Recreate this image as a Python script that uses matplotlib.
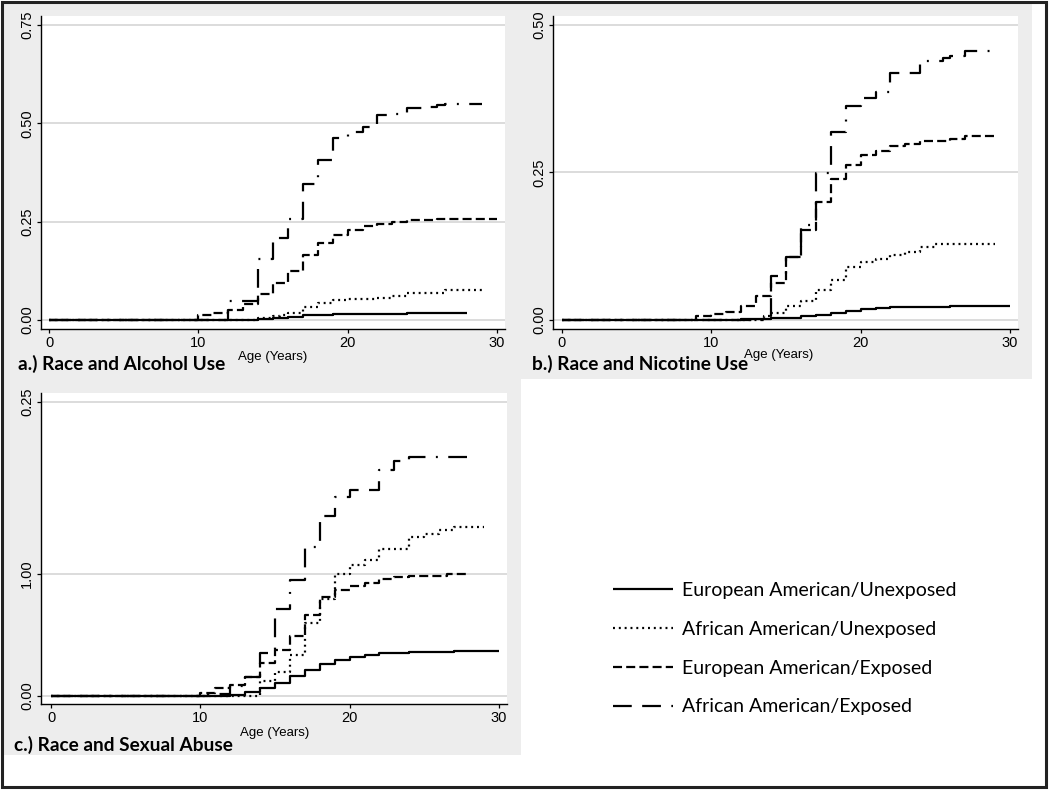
import matplotlib
matplotlib.use("Agg")
import matplotlib.pyplot as plt
from matplotlib.patches import Rectangle

W, H = 1050, 792

# series labels (legend order)
series_names = ["European American/Unexposed", "African American/Unexposed",
                "European American/Exposed", "African American/Exposed"]

# a.) Race and Alcohol Use  (age, cumulative incidence)
alc_ea_unexp_age = [0, 14, 15, 16, 17, 19, 21, 24, 28]
alc_ea_unexp_val = [0, 0.003, 0.005, 0.008, 0.012, 0.014, 0.016, 0.018, 0.018]
alc_aa_unexp_age = [0, 14, 15, 15.5, 16, 17, 18, 19, 20, 22, 23, 24, 26.5, 29]
alc_aa_unexp_val = [0, 0.004, 0.010, 0.013, 0.019, 0.032, 0.042, 0.051, 0.053, 0.057, 0.061, 0.068, 0.076, 0.076]
alc_ea_exp_age = [0, 10, 11, 12, 13, 14, 15, 16, 17, 18, 19, 20, 21, 22, 23, 24, 26, 30]
alc_ea_exp_val = [0, 0.013, 0.017, 0.025, 0.040, 0.066, 0.093, 0.125, 0.164, 0.195, 0.216, 0.230,
                  0.239, 0.244, 0.250, 0.254, 0.258, 0.258]
alc_aa_exp_age = [0, 12, 14, 15, 16, 17, 18, 19, 20, 21, 22, 23, 24, 25, 26, 26.5, 29]
alc_aa_exp_val = [0, 0.048, 0.154, 0.208, 0.258, 0.345, 0.408, 0.464, 0.479, 0.492, 0.521, 0.525,
                  0.538, 0.542, 0.547, 0.548, 0.548]

# b.) Race and Nicotine Use
nic_ea_unexp_age = [0, 10, 12, 14, 16, 17, 18, 19, 20, 21, 22, 26, 30]
nic_ea_unexp_val = [0, 0.0005, 0.001, 0.003, 0.006, 0.009, 0.012, 0.015, 0.018, 0.020, 0.022, 0.024, 0.024]
nic_aa_unexp_age = [0, 13.5, 14, 15, 16, 17, 18, 19, 20, 21, 22, 23, 24, 25, 29]
nic_aa_unexp_val = [0, 0.007, 0.011, 0.023, 0.032, 0.051, 0.068, 0.090, 0.099, 0.103, 0.110, 0.116,
                    0.123, 0.128, 0.128]
nic_ea_exp_age = [0, 9, 10, 11, 12, 13, 14, 15, 16, 17, 18, 19, 20, 21, 22, 23, 24, 26, 27, 29]
nic_ea_exp_val = [0, 0.007, 0.010, 0.014, 0.024, 0.041, 0.062, 0.107, 0.153, 0.200, 0.238, 0.263,
                  0.280, 0.287, 0.294, 0.298, 0.303, 0.306, 0.312, 0.312]
nic_aa_exp_age = [0, 13.5, 14, 15, 16, 17, 18, 19, 20, 21, 22, 24, 25.5, 26, 27, 29]
nic_aa_exp_val = [0, 0.006, 0.075, 0.107, 0.161, 0.249, 0.318, 0.362, 0.376, 0.387, 0.419, 0.439,
                  0.444, 0.447, 0.455, 0.455]

# c.) Race and Sexual Abuse (axis units as drawn in the original)
sex_ea_unexp_age = [0, 12, 13, 14, 15, 16, 17, 18, 19, 20, 21, 22, 24, 27, 30]
sex_ea_unexp_val = [0, 0.0006, 0.0037, 0.0071, 0.0108, 0.017, 0.0221, 0.0272, 0.0306, 0.0334,
                    0.0348, 0.0362, 0.0376, 0.0382, 0.0385]
sex_aa_unexp_age = [0, 14, 15, 16, 17, 18, 19, 20, 21, 22, 24, 25, 26, 27, 29]
sex_aa_unexp_val = [0, 0.0127, 0.0207, 0.0348, 0.0617, 0.0829, 0.1041, 0.1112, 0.1155, 0.1254,
                    0.1353, 0.1381, 0.1409, 0.1438, 0.1438]
sex_ea_exp_age = [0, 10, 11, 12, 13, 14, 15, 16, 17, 18, 19, 20, 21, 22, 23, 24, 26.5, 28]
sex_ea_exp_val = [0, 0.0023, 0.0071, 0.0093, 0.0158, 0.0277, 0.0391, 0.0509, 0.0688, 0.0838, 0.090,
                  0.0934, 0.0962, 0.0999, 0.1013, 0.1019, 0.1041, 0.1041]
sex_aa_exp_age = [0, 10.5, 12, 13, 14, 15, 16, 17, 18, 19, 20, 22, 23, 24, 28]
sex_aa_exp_val = [0, 0.0017, 0.0085, 0.0158, 0.0368, 0.0744, 0.099, 0.1268, 0.1528, 0.1692,
                  0.1749, 0.1919, 0.1998, 0.2032, 0.2032]

x_ticks = [0, 10, 20, 30]
alc_yticks = [0, 0.25, 0.5, 0.75]
alc_ylabels = ["0.00", "0.25", "0.50", "0.75"]
nic_yticks = [0, 0.25, 0.5]
nic_ylabels = ["0.00", "0.25", "0.50"]
sex_yticks = [0, 0.1037, 0.25]
sex_ylabels = ["0.00", "1.00", "0.25"]

plt.rcParams['lines.scale_dashes'] = False
TICK_FONT = ['Liberation Sans', 'DejaVu Sans']
TITLE_FONT = ['Lato', 'DejaVu Sans']

styles = [
    dict(linestyle='-'),
    dict(linestyle=(0, (1.4, 2.8))),
    dict(linestyle=(0, (6.5, 3.0))),
    dict(linestyle=(0, (13.5, 7.5, 13.5, 7.5, 1.4, 7.5))),
]


def px_box(left, top, right, bottom):
    return [left / W, 1 - bottom / H, (right - left) / W, (bottom - top) / H]


def draw_panel(ax, curves, yticks, ylabels, xlim, ylim):
    lines = []
    for (age, val), st, name in zip(curves, styles, series_names):
        ln, = ax.step(age, val, where='post', color='black', lw=1.6, label=name,
                      solid_capstyle='butt', dash_capstyle='butt', **st)
        lines.append(ln)
    ax.set_xlim(*xlim)
    ax.set_ylim(*ylim)
    ax.set_xticks(x_ticks)
    ax.set_xticklabels([str(t) for t in x_ticks], family=TICK_FONT, fontsize=10.5)
    ax.set_yticks(yticks)
    ax.set_yticklabels(ylabels, rotation=90, va='center', family=TICK_FONT, fontsize=10.5)
    ax.tick_params(direction='out', length=3, width=0.9, pad=2, color='black')
    ax.yaxis.grid(True, color='#d6d6d6', lw=1.2)
    ax.set_axisbelow(True)
    for s in ['top', 'right']:
        ax.spines[s].set_visible(False)
    for s in ['left', 'bottom']:
        ax.spines[s].set_linewidth(1.0)
    ax.set_facecolor('white')
    return lines


fig = plt.figure(figsize=(W / 100, H / 100), dpi=100)
fig.patch.set_facecolor('white')

# gray backgrounds of the graph panels
fig.patches.append(Rectangle((3 / W, 1 - 755 / H), (521 - 3) / W, (755 - 3) / H,
                             transform=fig.transFigure, facecolor='#ededed', edgecolor='none', zorder=-5))
fig.patches.append(Rectangle((521 / W, 1 - 379 / H), (1032 - 521) / W, (379 - 3) / H,
                             transform=fig.transFigure, facecolor='#ededed', edgecolor='none', zorder=-5))
# outer border
fig.patches.append(Rectangle((2 / W, 1 - 787 / H), (1046 - 2) / W, (787 - 2) / H,
                             transform=fig.transFigure, facecolor='none', edgecolor='#222222',
                             lw=2.2, zorder=10))

ax_a = fig.add_axes(px_box(41, 16, 505, 329))
lines = draw_panel(ax_a,
                   [(alc_ea_unexp_age, alc_ea_unexp_val), (alc_aa_unexp_age, alc_aa_unexp_val),
                    (alc_ea_exp_age, alc_ea_exp_val), (alc_aa_exp_age, alc_aa_exp_val)],
                   alc_yticks, alc_ylabels, (-0.536, 30.54), (-0.0229, 0.773))

ax_b = fig.add_axes(px_box(553, 16, 1018, 329))
draw_panel(ax_b,
           [(nic_ea_unexp_age, nic_ea_unexp_val), (nic_aa_unexp_age, nic_aa_unexp_val),
            (nic_ea_exp_age, nic_ea_exp_val), (nic_aa_exp_age, nic_aa_exp_val)],
           nic_yticks, nic_ylabels, (-0.6, 30.54), (-0.0153, 0.515))

ax_c = fig.add_axes(px_box(41, 393, 507, 704))
draw_panel(ax_c,
           [(sex_ea_unexp_age, sex_ea_unexp_val), (sex_aa_unexp_age, sex_aa_unexp_val),
            (sex_ea_exp_age, sex_ea_exp_val), (sex_aa_exp_age, sex_aa_exp_val)],
           sex_yticks, sex_ylabels, (-0.67, 30.54), (-0.0068, 0.2577))

# axis titles and panel captions
for x, y in [(273, 357), (779, 355), (275, 733)]:
    fig.text(x / W, 1 - y / H, "Age (Years)", ha='center', va='center', family=TICK_FONT, fontsize=9.5)
for x, y, t in [(18, 364, "a.) Race and Alcohol Use"), (532, 364, "b.) Race and Nicotine Use"),
                (14, 745, "c.) Race and Sexual Abuse")]:
    fig.text(x / W, 1 - y / H, t, ha='left', va='center', family=TITLE_FONT,
             fontweight='bold', fontsize=13.7)

fig.legend(lines, series_names, loc='upper left', bbox_to_anchor=(613 / W, 1 - 582 / H),
           frameon=False, prop={'family': TITLE_FONT, 'size': 14}, handlelength=3.1,
           handletextpad=0.45, labelspacing=1.12, borderpad=0, borderaxespad=0)

fig.savefig('out.png', dpi=100)
